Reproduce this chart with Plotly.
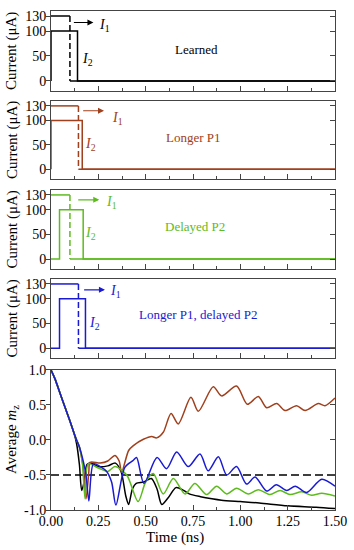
import plotly.graph_objects as go

# ---------------- data ----------------
panel_names = ["Learned", "Longer P1", "Delayed P2", "Longer P1, delayed P2"]
panel_colors = ["#000000", "#a0401c", "#5dbb1e", "#1a1ad2"]
i1_amp = 130
i2_amp = 100
p1_start = [0.0, 0.0, 0.0, 0.0]
p1_end = [0.10, 0.145, 0.10, 0.145]
p2_start = [0.0, 0.0, 0.045, 0.045]
p2_end = [0.14, 0.165, 0.17, 0.182]
t_end = 1.5

current_ticks = [0, 50, 100, 130]
time_ticks = [0.0, 0.25, 0.5, 0.75, 1.0, 1.25, 1.5]
time_ticklabels = ["0.00", "0.25", "0.50", "0.75", "1.00", "1.25", "1.50"]
mz_ticks = [1.0, 0.5, 0.0, -0.5, -1.0]
mz_ticklabels = ["1.0", "0.5", "0.0", "-0.5", "-1.0"]
threshold = -0.5

t_learned = [0.0, 0.02, 0.05, 0.075, 0.1, 0.12, 0.135, 0.15, 0.162, 0.175, 0.19, 0.21, 0.25, 0.3, 0.34, 0.37, 0.395, 0.41, 0.43, 0.45, 0.49, 0.53, 0.56, 0.585, 0.62, 0.66, 0.7, 0.73, 0.79, 0.85, 0.9, 1.0, 1.1, 1.25, 1.4, 1.5]
m_learned = [1.0, 0.88, 0.65, 0.46, 0.27, 0.11, -0.05, -0.35, -0.72, -0.6, -0.35, -0.33, -0.38, -0.37, -0.33, -0.45, -0.8, -0.92, -0.7, -0.62, -0.6, -0.55, -0.7, -0.92, -0.82, -0.68, -0.72, -0.77, -0.81, -0.84, -0.86, -0.88, -0.9, -0.94, -0.96, -0.98]

t_longer = [0.0, 0.02, 0.05, 0.075, 0.1, 0.12, 0.135, 0.15, 0.17, 0.185, 0.2, 0.206, 0.26, 0.3, 0.338, 0.36, 0.373, 0.41, 0.435, 0.488, 0.532, 0.558, 0.593, 0.634, 0.672, 0.739, 0.778, 0.857, 0.901, 0.98, 1.037, 1.095, 1.139, 1.192, 1.236, 1.297, 1.342, 1.412, 1.447, 1.5]
m_longer = [1.0, 0.88, 0.65, 0.46, 0.27, 0.11, 0.0, -0.1, -0.4, -0.84, -0.45, -0.32, -0.33, -0.3, -0.22, -0.3, -0.46, -0.15, -0.08, 0.01, 0.05, 0.03, 0.11, 0.38, 0.23, 0.61, 0.41, 0.76, 0.63, 0.77, 0.51, 0.62, 0.46, 0.52, 0.42, 0.49, 0.42, 0.52, 0.49, 0.6]

t_delayed = [0.0, 0.02, 0.05, 0.075, 0.1, 0.12, 0.135, 0.15, 0.165, 0.18, 0.197, 0.25, 0.3, 0.338, 0.4, 0.46, 0.5, 0.54, 0.593, 0.646, 0.708, 0.76, 0.822, 0.875, 0.928, 0.98, 1.042, 1.095, 1.157, 1.21, 1.262, 1.324, 1.377, 1.43, 1.5]
m_delayed = [1.0, 0.88, 0.65, 0.46, 0.27, 0.11, 0.0, -0.1, -0.3, -0.84, -0.34, -0.4, -0.45, -0.38, -0.5, -0.88, -0.6, -0.48, -0.77, -0.55, -0.77, -0.62, -0.78, -0.66, -0.77, -0.69, -0.77, -0.71, -0.78, -0.72, -0.78, -0.74, -0.79, -0.76, -0.8]

t_both = [0.0, 0.02, 0.05, 0.075, 0.1, 0.12, 0.135, 0.15, 0.17, 0.185, 0.2, 0.224, 0.26, 0.294, 0.32, 0.343, 0.39, 0.435, 0.452, 0.491, 0.56, 0.61, 0.664, 0.725, 0.787, 0.83, 0.884, 0.928, 0.98, 1.033, 1.078, 1.139, 1.19, 1.245, 1.29, 1.35, 1.43, 1.5]
m_both = [1.0, 0.88, 0.65, 0.46, 0.27, 0.11, 0.0, -0.1, -0.3, -0.5, -0.87, -0.34, -0.38, -0.45, -0.6, -0.93, -0.39, -0.29, -0.25, -0.62, -0.25, -0.41, -0.17, -0.38, -0.2, -0.44, -0.24, -0.5, -0.38, -0.63, -0.53, -0.73, -0.64, -0.72, -0.66, -0.75, -0.56, -0.66]

mz_series = [(t_learned, m_learned), (t_longer, m_longer), (t_delayed, m_delayed), (t_both, m_both)]

# ---------------- figure ----------------
FONT = "Liberation Serif, Times New Roman, serif"
W, H = 354, 550
ML, MR, MT, MB = 51, 19, 11, 40
domains = [[0.8397, 1.0], [0.6633, 0.8196], [0.4830, 0.6413], [0.3046, 0.4629], [0.0, 0.2806]]

fig = go.Figure()
lw = 1.5

def ax(i):
    return "" if i == 1 else str(i)

for k in range(4):
    n = k + 1
    c = panel_colors[k]
    xr, yr = "x" + ax(n), "y" + ax(n)
    fig.add_trace(go.Scatter(x=[p1_start[k], p1_end[k]], y=[i1_amp, i1_amp], mode="lines",
                             line=dict(color=c, width=lw), xaxis=xr, yaxis=yr, showlegend=False))
    fig.add_trace(go.Scatter(x=[p1_end[k], p1_end[k]], y=[i1_amp, 0], mode="lines",
                             line=dict(color=c, width=lw, dash="6px,3px"), xaxis=xr, yaxis=yr, showlegend=False))
    fig.add_trace(go.Scatter(x=[p1_end[k], t_end], y=[0, 0], mode="lines",
                             line=dict(color=c, width=lw), xaxis=xr, yaxis=yr, showlegend=False))
    fig.add_trace(go.Scatter(x=[0, p2_start[k], p2_start[k], p2_end[k], p2_end[k], t_end],
                             y=[0, 0, i2_amp, i2_amp, 0, 0], mode="lines",
                             line=dict(color=c, width=lw), xaxis=xr, yaxis=yr, showlegend=False))

fig.add_trace(go.Scatter(x=[0, t_end], y=[threshold, threshold], mode="lines",
                         line=dict(color="black", width=lw, dash="8px,4px"), xaxis="x5", yaxis="y5", showlegend=False))
for k, (tt, mm) in enumerate(mz_series):
    fig.add_trace(go.Scatter(x=tt, y=mm, mode="lines", line=dict(color=panel_colors[k], width=lw, shape="spline", smoothing=0.8),
                             xaxis="x5", yaxis="y5", showlegend=False))

for n in range(1, 6):
    fig.add_trace(go.Scatter(x=[0], y=[0], mode="lines", xaxis="x" + ax(n), yaxis="y" + str(n + 5),
                             showlegend=False, hoverinfo="skip"))

axis_common = dict(showline=True, linecolor="#444", linewidth=1, showgrid=False, zeroline=False,
                   tickfont=dict(family=FONT, size=14, color="black"), tickcolor="#444")
layout = dict(width=W, height=H, margin=dict(l=ML, r=MR, t=MT, b=MB, autoexpand=False), plot_bgcolor="white",
              paper_bgcolor="white", showlegend=False)

for n in range(1, 6):
    xa = dict(axis_common, domain=[0, 1], range=[0, 1.5], anchor="y" + ax(n), mirror=True,
              ticks="inside", ticklen=5, tickvals=time_ticks, ticktext=time_ticklabels,
              minor=dict(dtick=0.125, tick0=0, ticks="inside", ticklen=3, tickcolor="#444"),
              showticklabels=(n == 5), automargin=False, ticklabelstandoff=-2)
    if n == 5:
        ya = dict(axis_common, domain=domains[n - 1], range=[-1, 1], anchor="x" + ax(n), mirror=True,
                  ticks="outside", ticklen=4, tickvals=mz_ticks, ticktext=mz_ticklabels, automargin=False,
                  ticklabelstandoff=-3)
        yr_rng, tv = [-1, 1], mz_ticks
    else:
        ya = dict(axis_common, domain=domains[n - 1], range=[-20, 140], anchor="x" + ax(n), mirror=True,
                  ticks="outside", ticklen=4, tickvals=current_ticks, automargin=False,
                  ticklabelstandoff=-3)
        yr_rng, tv = [-20, 140], current_ticks
    layout["xaxis" + ax(n)] = xa
    layout["yaxis" + ax(n)] = ya
    layout["yaxis" + str(n + 5)] = dict(overlaying="y" + ax(n), side="right", anchor="x" + ax(n),
                                        range=yr_rng, tickvals=tv, ticks="inside", ticklen=5,
                                        tickcolor="#444", showticklabels=False, showgrid=False,
                                        zeroline=False, showline=False)

fig.update_layout(**layout)

label_pos = [(0.766, 62), (0.752, 65), (0.761, 66), (0.779, 68)]
arrow_pos = [(0.113, 0.224, 117), (0.162, 0.28, 120), (0.136, 0.255, 120), (0.167, 0.285, 118)]
i1_pos = [(0.243, 112), (0.312, 105), (0.28, 114), (0.301, 114)]
i2_pos = [(0.193, 42), (0.211, 50), (0.211, 51), (0.23, 49)]
for k in range(4):
    n = k + 1
    c = panel_colors[k]
    xr, yr = "x" + ax(n), "y" + ax(n)
    fig.add_annotation(x=label_pos[k][0], y=label_pos[k][1], xref=xr, yref=yr, text=panel_names[k],
                       showarrow=False, font=dict(family=FONT, size=13, color=c))
    a0, a1, ay_ = arrow_pos[k]
    fig.add_annotation(x=a1, y=ay_, ax=a0, ay=ay_, xref=xr, yref=yr, axref=xr, ayref=yr, text="",
                       showarrow=True, arrowhead=2, arrowsize=1, arrowwidth=1.2, arrowcolor=c)
    fig.add_annotation(x=i1_pos[k][0], y=i1_pos[k][1], xref=xr, yref=yr, text="<i>I</i><sub>1</sub>",
                       showarrow=False, xanchor="left", font=dict(family=FONT, size=14, color=c))
    fig.add_annotation(x=i2_pos[k][0], y=i2_pos[k][1], xref=xr, yref=yr, text="<i>I</i><sub>2</sub>",
                       showarrow=False, xanchor="center", font=dict(family=FONT, size=14, color=c))
    yc = (domains[k][0] + domains[k][1]) / 2
    fig.add_annotation(x=-0.137, y=yc, xref="paper", yref="paper", text="Current (μA)", textangle=-90,
                       xanchor="center", yanchor="middle",
                       showarrow=False, font=dict(family=FONT, size=15, color="black"))

yc5 = (domains[4][0] + domains[4][1]) / 2
fig.add_annotation(x=-0.137, y=yc5, xref="paper", yref="paper", text="Average <i>m</i><sub>z</sub>", textangle=-90,
                   xanchor="center", yanchor="middle",
                   showarrow=False, font=dict(family=FONT, size=15, color="black"))
fig.add_annotation(x=0.437, y=-0.0561, xref="paper", yref="paper", text="Time (ns)", yanchor="middle",
                   xanchor="center", showarrow=False, font=dict(family=FONT, size=15, color="black"))

fig.write_html("out.html", config={"displayModeBar": False},
               post_script="document.body.style.margin='0';document.body.style.padding='0';")
